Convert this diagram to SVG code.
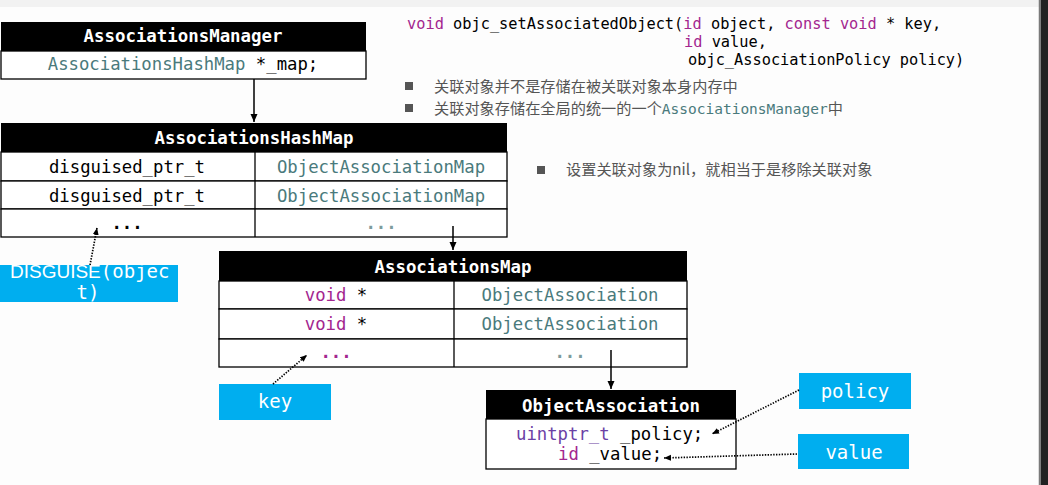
<svg xmlns="http://www.w3.org/2000/svg" width="1048" height="485" viewBox="0 0 1048 485">
<style>
.hdr{fill:#000}
.hdrt{font-family:"DejaVu Sans Mono",monospace;font-weight:bold;font-size:17.4px;fill:#fff;text-anchor:middle}
.cell{fill:#fff;stroke:#000;stroke-width:1.3}
.ct{font-family:"DejaVu Sans Mono",monospace;font-size:17.3px;text-anchor:middle;fill:#000}
.cs{font-family:"DejaVu Sans Mono",monospace;font-size:17.3px;text-anchor:start;fill:#000}
.dots{font-weight:bold}
.teal{fill:#4a7a7c}
.dim{fill:#7d9b9c}
.kw{fill:#a3268f}
.typ{fill:#6b41a5}
.lbl{fill:#00aeef}
.lt{font-family:"DejaVu Sans Mono",monospace;font-size:19px;fill:#fff;text-anchor:middle}
.conn{stroke:#000;stroke-width:1.5;fill:none}
.dot{stroke:#000;stroke-width:1.7;stroke-dasharray:1.4 1.4;fill:none}
.code{font-family:"DejaVu Sans Mono",monospace;font-size:15.3px;fill:#000}
.cjk{font-family:"Noto Sans CJK SC",sans-serif;fill:#555}
.bul{fill:#555}
</style>
<defs>
<marker id="ah" markerUnits="userSpaceOnUse" markerWidth="8" markerHeight="8" refX="8" refY="4" orient="auto">
<path d="M0,0.5 L8,4 L0,7.5 z" fill="#000"/>
</marker>
<marker id="ahs" markerUnits="userSpaceOnUse" markerWidth="7" markerHeight="7" refX="7" refY="3.5" orient="auto">
<path d="M0,0.5 L7,3.5 L0,6.5 z" fill="#000"/>
</marker>
</defs>
<rect x="0" y="0" width="1048" height="485" fill="#fdfdfd"/>
<rect x="0" y="0" width="1039" height="7" fill="#f2f2f2"/>
<line x1="1039.5" y1="0" x2="1039.5" y2="485" stroke="#7a7a7a" stroke-width="1.5"/>
<rect x="1040.5" y="0" width="7.5" height="485" fill="#222"/>

<g id="code-text">
<text class="code" x="407" y="29"><tspan class="kw">void</tspan> objc_setAssociatedObject(<tspan class="kw">id</tspan> object, <tspan class="kw">const</tspan> <tspan class="kw">void</tspan> * key,</text>
<text class="code" x="684" y="47"><tspan class="kw">id</tspan> value,</text>
<text class="code" x="688" y="65">objc_AssociationPolicy policy)</text>
</g>

<g id="bullets">
<rect class="bul" x="405" y="82" width="8" height="8"/>
<text class="cjk" x="434" y="92" font-size="15.2">关联对象并不是存储在被关联对象本身内存中</text>
<rect class="bul" x="405" y="104" width="8" height="8"/>
<text class="cjk" x="434" y="114" font-size="15.2">关联对象存储在全局的统一的一个<tspan font-family="DejaVu Sans Mono, monospace" font-size="14.5" fill="#4a7a7c">AssociationsManager</tspan>中</text>
<rect class="bul" x="537" y="166" width="8" height="8"/>
<text class="cjk" x="566" y="175" font-size="15.2">设置关联对象为nil，就相当于是移除关联对象</text>
</g>

<g id="AssociationsManager">
<rect class="hdr" x="1" y="22" width="365" height="29"/>
<text class="hdrt" x="183" y="42">AssociationsManager</text>
<rect class="cell" x="1" y="51" width="365" height="28"/>
<text class="ct" x="183" y="70"><tspan class="teal">AssociationsHashMap</tspan> *_map;</text>
</g>

<g id="AssociationsHashMap">
<rect class="hdr" x="1" y="123" width="506" height="29"/>
<text class="hdrt" x="254" y="144">AssociationsHashMap</text>
<rect class="cell" x="1" y="152" width="506" height="29"/>
<rect class="cell" x="1" y="181" width="506" height="28"/>
<rect class="cell" x="1" y="209" width="506" height="28"/>
<line x1="255" y1="152" x2="255" y2="237" stroke="#000" stroke-width="1.3"/>
<text class="ct" x="127" y="173">disguised_ptr_t</text>
<text class="ct teal" x="381" y="173">ObjectAssociationMap</text>
<text class="ct" x="127" y="202">disguised_ptr_t</text>
<text class="ct teal" x="381" y="202">ObjectAssociationMap</text>
<text class="ct dots" x="127" y="229">...</text>
<text class="ct dots dim" x="381" y="229">...</text>
</g>

<g id="AssociationsMap">
<rect class="hdr" x="219" y="251" width="468" height="30"/>
<text class="hdrt" x="453" y="273">AssociationsMap</text>
<rect class="cell" x="219" y="281" width="468" height="28"/>
<rect class="cell" x="219" y="309" width="468" height="30"/>
<rect class="cell" x="219" y="339" width="468" height="28"/>
<line x1="454" y1="281" x2="454" y2="367" stroke="#000" stroke-width="1.3"/>
<text class="ct" x="336" y="301"><tspan class="kw">void</tspan> *</text>
<text class="ct teal" x="570" y="301">ObjectAssociation</text>
<text class="ct" x="336" y="330"><tspan class="kw">void</tspan> *</text>
<text class="ct teal" x="570" y="330">ObjectAssociation</text>
<text class="ct dots kw" x="336" y="358">...</text>
<text class="ct dots dim" x="570" y="358">...</text>
</g>

<g id="ObjectAssociation">
<rect class="hdr" x="486" y="390" width="250" height="29"/>
<text class="hdrt" x="611" y="412">ObjectAssociation</text>
<rect class="cell" x="486" y="419" width="250" height="50"/>
<text class="cs" x="516" y="440"><tspan class="typ">uintptr_t</tspan> _policy;</text>
<text class="cs" x="558" y="460"><tspan class="kw">id</tspan> _value;</text>
</g>

<g id="DISGUISE">
<rect class="lbl" x="0" y="265" width="178" height="37"/>
<text x="10" y="278" fill="#fff" font-size="19"><tspan font-family="Liberation Sans, Arial, sans-serif">DISGUISE</tspan><tspan font-family="DejaVu Sans Mono, monospace">(objec</tspan></text>
<text x="88" y="299" fill="#fff" font-size="19" font-family="DejaVu Sans Mono, monospace" text-anchor="middle">t)</text>
</g>

<g id="key">
<rect class="lbl" x="219" y="384" width="112" height="36"/>
<text class="lt" x="275" y="408">key</text>
</g>

<g id="policy">
<rect class="lbl" x="799" y="373" width="112" height="36"/>
<text class="lt" x="855" y="398">policy</text>
</g>

<g id="value">
<rect class="lbl" x="798" y="434" width="111" height="35"/>
<text class="lt" x="854" y="459">value</text>
</g>

<g id="connectors">
<line class="conn" x1="254" y1="79" x2="254" y2="122" marker-end="url(#ah)"/>
<line class="conn" x1="453" y1="226" x2="453" y2="250" marker-end="url(#ah)"/>
<line class="conn" x1="611" y1="350" x2="611" y2="389" marker-end="url(#ah)"/>
<line class="dot" x1="90" y1="265" x2="97" y2="228" marker-end="url(#ahs)"/>
<line class="dot" x1="273" y1="384" x2="307" y2="355" marker-end="url(#ahs)"/>
<line class="dot" x1="799" y1="390" x2="712" y2="434" marker-end="url(#ahs)"/>
<line class="dot" x1="797" y1="454" x2="664" y2="458" marker-end="url(#ahs)"/>
</g>
</svg>
